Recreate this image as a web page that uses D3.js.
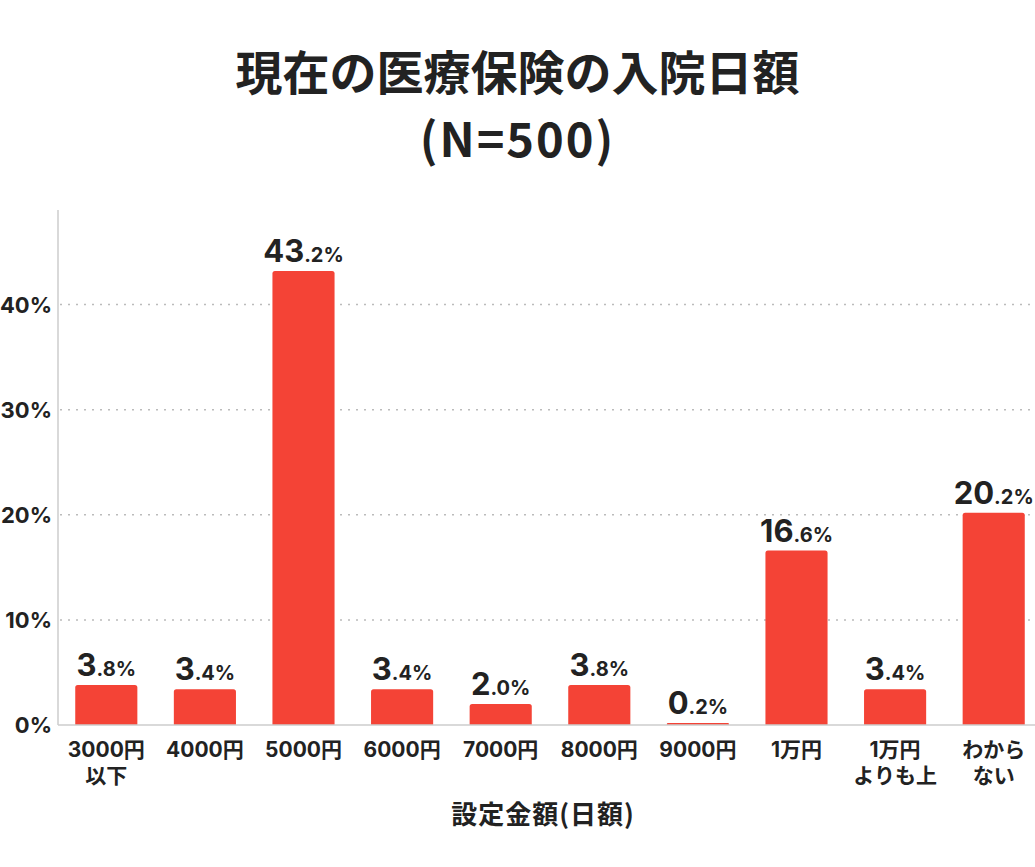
<!DOCTYPE html>
<html>
<head>
<meta charset="utf-8">
<script src="https://cdn.jsdelivr.net/npm/d3@7"></script>
<style>
  body { margin: 0; background: #fff; }
  text { font-family: "Noto Sans CJK JP", "Inter", sans-serif; fill: #222; }
</style>
</head>
<body>
<div id="chart"></div>
<script>
// DATA
const categories = ["3000円\n以下", "4000円", "5000円", "6000円", "7000円", "8000円", "9000円", "1万円", "1万円\nよりも上", "わから\nない"];
const values = [3.8, 3.4, 43.2, 3.4, 2.0, 3.8, 0.2, 16.6, 3.4, 20.2];
const yTicks = [0, 10, 20, 30, 40];
const titleLines = ["現在の医療保険の入院日額", "(N=500)"];
const xTitle = "設定金額(日額)";

const width = 1035;
const height = 867;
const barColor = "#f44336";
const numFont = "Inter, 'Noto Sans CJK JP', sans-serif";

const svg = d3.select("#chart")
    .append("svg")
        .attr("width", width)
        .attr("height", height)
        .attr("viewBox", [0, 0, width, height]);

const x = d3.scaleBand()
    .domain(categories)
    .range([57, 1043])
    .paddingInner(0.37)
    .paddingOuter(0.185);

const y = d3.scaleLinear()
    .domain([0, 49])
    .range([725, 210]);

// title
svg.append("g")
    .selectAll("text")
    .data(titleLines)
    .enter()
    .append("text")
        .attr("x", width / 2)
        .attr("y", (d, i) => i == 0 ? 90 : 157)
        .attr("text-anchor", "middle")
        .attr("font-size", 47)
        .attr("font-weight", 700)
        .attr("letter-spacing", (d, i) => i == 0 ? 0 : 2)
        .text(d => d);

// gridlines
svg.append("g")
    .selectAll("line")
    .data(yTicks.filter(d => d > 0))
    .enter()
    .append("line")
        .attr("x1", 60)
        .attr("x2", width)
        .attr("y1", d => y(d))
        .attr("y2", d => y(d))
        .attr("stroke", "#bbb")
        .attr("stroke-width", 1.5)
        .attr("stroke-dasharray", "2,6");

// y axis line
svg.append("line")
    .attr("x1", 58).attr("x2", 58)
    .attr("y1", 210).attr("y2", y(0))
    .attr("stroke", "#ccc")
    .attr("stroke-width", 1.5);

// tick labels
svg.append("g")
    .selectAll("text")
    .data(yTicks)
    .enter()
    .append("text")
        .attr("x", 52)
        .attr("y", d => y(d) + 8)
        .attr("text-anchor", "end")
        .attr("font-size", 22)
        .attr("font-weight", 700)
        .style("font-family", numFont)
        .text(d => d + "%");

// bars, top corners rounded
const r = 2.5;
svg.append("g")
    .selectAll("path")
    .data(values)
    .enter()
    .append("path")
        .attr("fill", barColor)
        .attr("d", (d, i) => {
            const x0 = x(categories[i]);
            const x1 = x0 + x.bandwidth();
            const y0 = y(0);
            const y1 = y(d);
            const rr = Math.min(r, (y0 - y1) / 2);
            return "M " + x0 + " " + y0 + " L " + x0 + " " + (y1 + rr) +
                " Q " + x0 + " " + y1 + " " + (x0 + rr) + " " + y1 +
                " L " + (x1 - rr) + " " + y1 +
                " Q " + x1 + " " + y1 + " " + x1 + " " + (y1 + rr) +
                " L " + x1 + " " + y0 + " Z";
        });

// baseline
svg.append("line")
    .attr("x1", 58).attr("x2", width)
    .attr("y1", y(0)).attr("y2", y(0))
    .attr("stroke", "#ccc")
    .attr("stroke-width", 1.5);

// value labels: large integer part, smaller decimals
const valLabels = svg.append("g")
    .selectAll("text")
    .data(values)
    .enter()
    .append("text")
        .attr("x", (d, i) => x(categories[i]) + x.bandwidth() / 2)
        .attr("y", d => y(d) - 9)
        .attr("text-anchor", "middle")
        .attr("font-weight", 700)
        .style("font-family", numFont);

valLabels.append("tspan")
    .attr("font-size", 31)
    .text(d => Math.floor(d));

valLabels.append("tspan")
    .attr("font-size", 20)
    .text(d => "." + Math.round((d % 1) * 10) + "%");

// category labels
const catLabels = svg.append("g")
    .selectAll("text")
    .data(categories)
    .enter()
    .append("text")
        .attr("x", d => x(d) + x.bandwidth() / 2)
        .attr("y", 757)
        .attr("text-anchor", "middle")
        .attr("font-size", 21)
        .attr("font-weight", 700)
        .style("font-family", numFont);

catLabels.selectAll("tspan")
    .data(d => d.split("\n").map(s => ({s: s, cx: x(d) + x.bandwidth() / 2})))
    .enter()
    .append("tspan")
        .attr("x", d => d.cx)
        .attr("dy", (d, i) => i == 0 ? 0 : 26)
        .text(d => d.s);

// x axis title
svg.append("text")
    .attr("x", 543)
    .attr("y", 824)
    .attr("text-anchor", "middle")
    .attr("font-size", 26)
    .attr("font-weight", 700)
    .attr("letter-spacing", 1)
    .text(xTitle);
</script>
</body>
</html>
